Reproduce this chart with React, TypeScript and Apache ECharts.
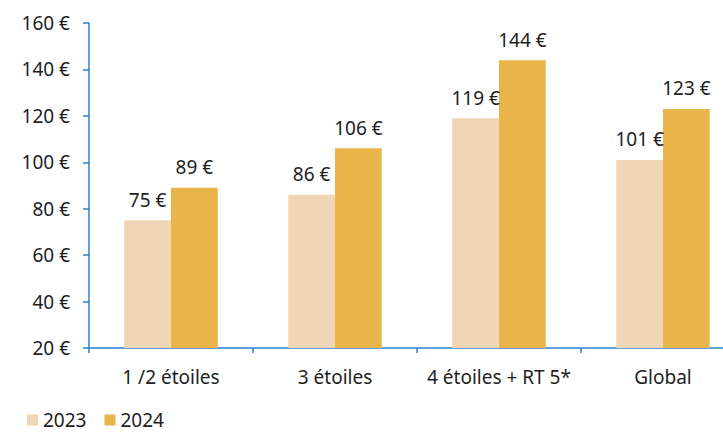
import React, { useEffect, useRef } from "react";
import * as echarts from "echarts";

const categories = ["1 /2 étoiles", "3 étoiles", "4 étoiles + RT 5*", "Global"];
const values2023 = [75, 86, 119, 101];
const values2024 = [89, 106, 144, 123];
const seriesNames = ["2023", "2024"];

export default function App() {
  const ref = useRef<HTMLDivElement>(null);
  useEffect(() => {
    if (!ref.current) return;
    const chart = echarts.init(ref.current, null, { renderer: "svg" });
    const font = "'Noto Sans', sans-serif";
    const axisColor = "#2b7fd0";
    const fs = 19;
    const label = {
      show: true,
      position: "top" as const,
      distance: 11,
      formatter: (p: any) => `${p.value} €`,
      color: "#1e1e1e",
      fontSize: fs,
      fontFamily: font,
    };
    chart.setOption({
      animation: false,
      textStyle: { fontFamily: font },
      grid: { left: 89, right: 0, top: 23, bottom: 84, containLabel: false },
      legend: {
        left: 27,
        top: 410,
        padding: 0,
        itemWidth: 11,
        itemHeight: 11,
        itemGap: 18,
        icon: "rect",
        textStyle: { fontSize: fs, lineHeight: 20, color: "#1e1e1e", fontFamily: font },
        data: seriesNames,
      },
      xAxis: {
        type: "category",
        data: categories,
        axisLine: { lineStyle: { color: axisColor, width: 1.5 } },
        axisTick: { show: true, length: 5, lineStyle: { color: axisColor, width: 1.5 } },
        axisLabel: { interval: 0, color: "#1e1e1e", fontSize: fs, fontFamily: font, margin: 19 },
      },
      yAxis: {
        type: "value",
        min: 20,
        max: 160,
        interval: 20,
        axisLine: { show: true, lineStyle: { color: axisColor, width: 1.5 } },
        axisTick: { show: true, length: 6, lineStyle: { color: axisColor, width: 1.5 } },
        splitLine: { show: false },
        axisLabel: {
          color: "#1e1e1e",
          fontSize: fs,
          fontFamily: font,
          margin: 19,
          formatter: (v: number) => `${v} €`,
        },
      },
      series: [
        {
          name: seriesNames[0],
          type: "bar",
          data: values2023,
          barGap: "0%",
          barCategoryGap: "43%",
          itemStyle: { color: "#F1D6B5" },
          label,
        },
        {
          name: seriesNames[1],
          type: "bar",
          data: values2024,
          barGap: "0%",
          barCategoryGap: "43%",
          itemStyle: { color: "#E9B44A" },
          label,
        },
      ],
    });
    return () => chart.dispose();
  }, []);
  return (
    <div style={{ position: "absolute", left: 0, top: 0, width: 723, height: 432, overflow: "hidden" }}>
      <div ref={ref} style={{ width: 745, height: 432 }} />
    </div>
  );
}
